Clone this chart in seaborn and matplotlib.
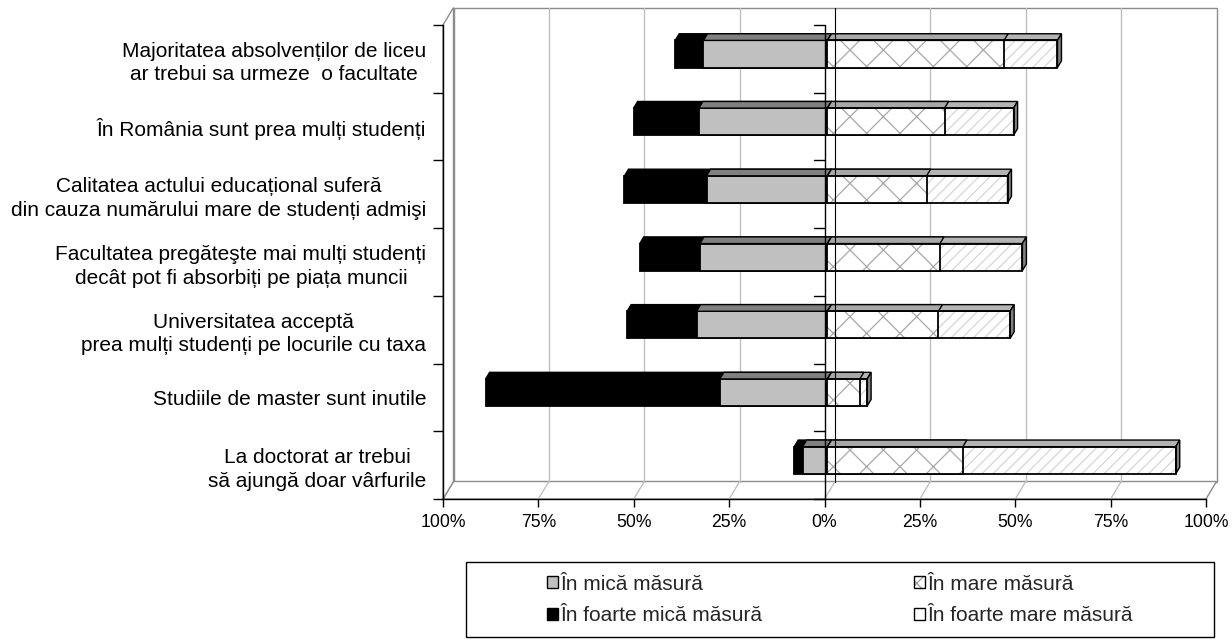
import matplotlib
matplotlib.use("Agg")
import matplotlib.pyplot as plt
import seaborn as sns
import pandas as pd
from matplotlib.patches import Polygon, Rectangle, Patch
from matplotlib.lines import Line2D
from matplotlib.transforms import ScaledTranslation, IdentityTransform
from matplotlib.legend_handler import HandlerTuple

# ---- data ---------------------------------------------------------------
statements = [
    "Majoritatea absolvenților de liceu\nar trebui sa urmeze  o facultate",
    "În România sunt prea mulți studenți",
    "Calitatea actului educațional suferă\ndin cauza numărului mare de studenți admişi",
    "Facultatea pregăteşte mai mulți studenți\ndecât pot fi absorbiți pe piața muncii",
    "Universitatea acceptă\nprea mulți studenți pe locurile cu taxa",
    "Studiile de master sunt inutile",
    "La doctorat ar trebui\nsă ajungă doar vârfurile",
]
foarte_mica = [7.4, 17.1, 21.5, 15.8, 18.2, 61.4, 2.2]
mica = [32.5, 33.7, 31.7, 33.4, 34.3, 28.2, 6.5]
mare = [46.3, 30.7, 26.0, 29.5, 29.1, 8.5, 35.5]
foarte_mare = [14.0, 18.1, 21.2, 21.6, 18.8, 1.9, 55.8]

legend_labels = ["În mică măsură", "În foarte mică măsură",
                 "În mare măsură", "În foarte mare măsură"]
x_ticks = [-100, -75, -50, -25, 0, 25, 50, 75, 100]
x_tick_labels = ["100%", "75%", "50%", "25%", "0%", "25%", "50%", "75%", "100%"]

df = pd.DataFrame({"statement": statements})
df["left_total"] = [-(a + b) for a, b in zip(foarte_mica, mica)]
df["left_inner"] = [-b for b in mica]
df["right_total"] = [a + b for a, b in zip(mare, foarte_mare)]
df["right_inner"] = list(mare)

# ---- figure -------------------------------------------------------------
sns.set_theme(style="white")
plt.rcParams["font.family"] = ["Liberation Sans", "DejaVu Sans"]
plt.rcParams["hatch.linewidth"] = 0.9

W, H, DPI = 1232, 641, 100
fig = plt.figure(figsize=(W / DPI, H / DPI), dpi=DPI, facecolor="white")
ax = fig.add_axes([443 / W, (H - 499) / H, 763 / W, 474 / H])
ax.set_facecolor("none")

DX, DY = 10.5, 17.5      # depth of the 3-D box in pixels
F0, F1 = 0.28, 0.66      # front / back depth of the bars

def shifted(f):
    return ax.transData + ScaledTranslation(f * DX / DPI, f * DY / DPI,
                                            fig.dpi_scale_trans)

layers = []

def bar_layer(col, face, top_color, z, hatch=None, hatch_color=None, side=False):
    n0 = len(ax.patches)
    if hatch:
        sns.barplot(data=df, x=col, y="statement", orient="y", color=face,
                    saturation=1, width=0.4, errorbar=None, hatch=hatch,
                    edgecolor=hatch_color, linewidth=0, ax=ax, zorder=z)
        sns.barplot(data=df, x=col, y="statement", orient="y", color="black",
                    fill=False, saturation=1, width=0.4, errorbar=None,
                    linewidth=1.3, ax=ax, zorder=z + 0.01)
    else:
        sns.barplot(data=df, x=col, y="statement", orient="y", color=face,
                    saturation=1, width=0.4, errorbar=None,
                    edgecolor="black", linewidth=1.3, ax=ax, zorder=z)
    new = ax.patches[n0:]
    for p in new:
        p.set_transform(shifted(F0))
    layers.append((new[:len(statements)], top_color, z, side))

bar_layer("left_total", "black", "black", 3.0)
bar_layer("left_inner", "#c0c0c0", "#808080", 3.1)
bar_layer("right_total", "white", "#b4b4b4", 3.2, hatch="///",
          hatch_color="#d6d6d6", side=True)
bar_layer("right_inner", "white", "#a8a8a8", 3.3, hatch="x",
          hatch_color="#a8a8a8")

ax.set_xlim(-100, 100)
ax.set_ylim(6.5, -0.5)
ax.set_xlabel("")
ax.set_ylabel("")

def px(x, y, f=0.0):
    X, Y = ax.transData.transform((x, y))
    return (X + f * DX, Y + f * DY)

def poly(pts, fc, ec, z, lw=1.0):
    ax.add_patch(Polygon(pts, closed=True, facecolor=fc, edgecolor=ec, lw=lw,
                         transform=IdentityTransform(), clip_on=False, zorder=z))

def seg(p, q, color, z, lw=1.0):
    ax.add_line(Line2D([p[0], q[0]], [p[1], q[1]], color=color, lw=lw,
                       transform=IdentityTransform(), clip_on=False, zorder=z))

ymin, ymax = 6.5, -0.5
grid_c, frame_c = "#c0c0c0", "#8c8c8c"

# back wall, floor and left wall
poly([px(-100, ymin, 1), px(100, ymin, 1), px(100, ymax, 1), px(-100, ymax, 1)],
     "white", frame_c, 0.5)
poly([px(-100, ymin, 0), px(100, ymin, 0), px(100, ymin, 1), px(-100, ymin, 1)],
     "white", frame_c, 0.5)
poly([px(-100, ymin, 0), px(-100, ymax, 0), px(-100, ymax, 1), px(-100, ymin, 1)],
     "white", frame_c, 0.5)
for t in x_ticks[1:-1]:
    if t != 0:
        seg(px(t, ymin, 1), px(t, ymax, 1), grid_c, 0.6)
for t in x_ticks[1:-1]:
    seg(px(t, ymin, 0), px(t, ymin, 1), grid_c, 0.6)

# 3-D faces of the bars
for patches, top_color, z, side in layers:
    for p in patches:
        x0, w = p.get_x(), p.get_width()
        y0, h = p.get_y(), p.get_height()
        xa, xb = min(x0, x0 + w), max(x0, x0 + w)
        ytop, ybot = min(y0, y0 + h), max(y0, y0 + h)
        poly([px(xa, ytop, F0), px(xb, ytop, F0), px(xb, ytop, F1), px(xa, ytop, F1)],
             top_color, "black", z, lw=1.0)
        if side:
            poly([px(xb, ybot, F0), px(xb, ytop, F0), px(xb, ytop, F1), px(xb, ybot, F1)],
                 "#808080", "black", z, lw=1.0)

# value-axis zero lines (front axis with ticks, back wall line)
boundaries = [i - 0.5 for i in range(len(statements) + 1)]
seg(px(0, ymin, 0), px(0, ymax, 0), "black", 6)
seg(px(0, ymin, 1), px(0, ymax, 1), "black", 6, lw=0.8)
for b in boundaries:
    p = px(0, b, 0)
    seg((p[0] - 11, p[1]), p, "black", 6)

# axes frame and ticks
for s in ["top", "right"]:
    ax.spines[s].set_visible(False)
for s in ["left", "bottom"]:
    ax.spines[s].set_color("black")
    ax.spines[s].set_linewidth(1.0)
ax.set_xticks(x_ticks, x_tick_labels)
ax.tick_params(axis="x", bottom=True, direction="out", length=6, width=1,
               color="black", pad=5, labelsize=12.7, labelcolor="black")
ax.set_yticks(range(len(statements)), statements)
ax.set_yticks(boundaries, minor=True)
ax.tick_params(axis="y", which="major", left=False, length=0, pad=12,
               labelsize=15, labelcolor="black")
ax.tick_params(axis="y", which="minor", left=True, direction="out",
               length=7.5, width=1, color="black")
for lbl in ax.get_yticklabels():
    lbl.set_multialignment("center")
    lbl.set_linespacing(1.3)

# legend
fig.add_artist(Rectangle((466 / W, (H - 637) / H), (1214 - 466) / W, (637 - 562) / H,
                         transform=fig.transFigure, fill=False,
                         edgecolor="black", lw=1.0))
h_mica = Patch(facecolor="#c0c0c0", edgecolor="black", lw=1)
h_fmica = Patch(facecolor="black", edgecolor="black", lw=1)
h_mare = (Patch(facecolor="white", edgecolor="#a0a0a0", lw=0, hatch="x"),
          Patch(facecolor="none", edgecolor="black", lw=1))
h_fmare = Patch(facecolor="white", edgecolor="black", lw=1)
fig.legend([h_mica, h_fmica, h_mare, h_fmare], legend_labels, ncol=2,
           loc="center left", bbox_to_anchor=(537 / W, (H - 600) / H),
           frameon=False, fontsize=15, borderpad=0, handlelength=0.5,
           handleheight=0.5, handletextpad=0.12, columnspacing=7.3,
           labelspacing=0.62, handler_map={tuple: HandlerTuple(ndivide=1)})

fig.savefig("out.png", dpi=DPI, facecolor="white")
